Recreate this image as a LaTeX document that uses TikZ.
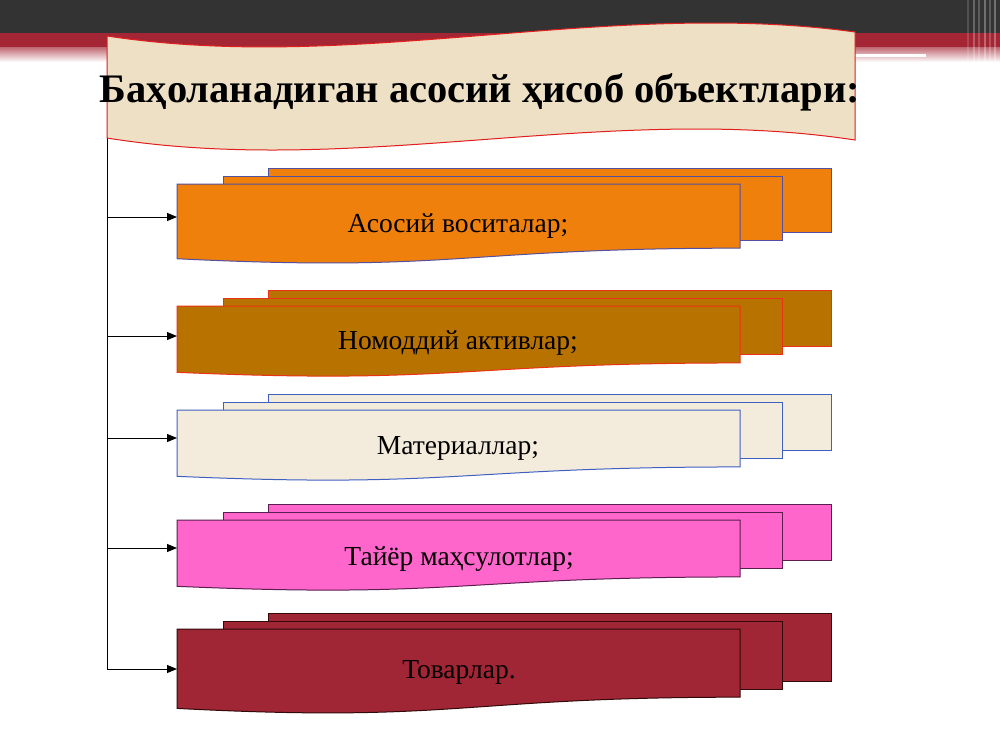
\documentclass[tikz,border=0pt]{standalone}
\usepackage{fontspec}
\setmainfont{Liberation Serif}
\usetikzlibrary{arrows.meta}
\definecolor{barDark}{RGB}{51,51,51}
\definecolor{barRed}{RGB}{164,38,52}
\definecolor{parch}{RGB}{237,224,197}
\definecolor{bannerLine}{RGB}{226,30,30}
\definecolor{orangeF}{RGB}{240,128,12}
\definecolor{orangeD}{RGB}{84,80,160}
\definecolor{brownF}{RGB}{184,114,0}
\definecolor{brownD}{RGB}{236,50,20}
\definecolor{creamF}{RGB}{243,235,219}
\definecolor{creamD}{RGB}{64,96,192}
\definecolor{pinkF}{RGB}{255,102,204}
\definecolor{pinkD}{RGB}{90,30,80}
\definecolor{wineF}{RGB}{160,37,53}
\definecolor{wineD}{RGB}{50,10,10}
\tikzset{
  pagebox/.style={line width=1pt},
  itemtext/.style={font=\fontsize{27.5}{32}\selectfont, text=black, anchor=base, inner sep=0pt},
  titletext/.style={font=\fontsize{40.5}{46}\selectfont\bfseries, text=black, anchor=base, inner sep=0pt},
  link/.style={line width=1pt, draw=black},
  linkarrow/.style={link, -{Triangle[length=10pt,width=8pt]}}
}
% #1 fill, #2 draw, #3 front top, #4 front height
\newcommand\docstack[4]{%
  \pgfmathsetmacro\hb{0.8*#4}%
  \filldraw[pagebox, fill=#1, draw=#2] (268,#3-16) rectangle (831,#3-16+\hb);
  \filldraw[pagebox, fill=#1, draw=#2] (223,#3-8) rectangle (782,#3-8+\hb);
  \filldraw[pagebox, fill=#1, draw=#2] (177,#3) -- (740,#3) -- (740,#3+0.802*#4)
     .. controls (458.5,#3+0.802*#4) and (458.5,#3+1.107*#4) .. (177,#3+0.934*#4) -- cycle;
}
\begin{document}
\begin{tikzpicture}[x=1pt, y=-1pt]
\useasboundingbox (0,0) rectangle (1000,750);
\fill[white] (0,0) rectangle (1000,750);
% top bars
\fill[barDark] (0,0) rectangle (1000,33);
\fill[barRed] (0,33) rectangle (1000,47);
\shade[top color=barRed!70, bottom color=white] (0,47) rectangle (1000,62);
\fill[white] (855,54) rectangle (926,57);
\foreach \xx/\op in {968/0.15,974/0.25,979/0.2,985/0.3,990/0.2,995/0.3}
  \draw[white, opacity=\op, line width=1.5pt] (\xx,0) -- (\xx,66);

% trunk
\coordinate (trunkTop) at (107,130);
\coordinate (t1) at (107,217);
\coordinate (t2) at (107,336);
\coordinate (t3) at (107,438);
\coordinate (t4) at (107,548);
\coordinate (t5) at (107,669);
\draw[link] (trunkTop) -- (t5);

% banner
\filldraw[fill=parch, draw=bannerLine, line width=1pt]
  (107,36) .. controls (356,74) and (606,-2) .. (855,32)
  -- (855,140) .. controls (606,102) and (356,178) .. (107,138) -- cycle;
\node[titletext] (title) at (480,102) {Баҳоланадиган асосий ҳисоб объектлари:};

% stacks
\docstack{orangeF}{orangeD}{184}{80}
\docstack{brownF}{brownD}{306}{71}
\docstack{creamF}{creamD}{410}{71}
\docstack{pinkF}{pinkD}{520}{71}
\docstack{wineF}{wineD}{629}{85}

\coordinate (f1) at (177,217);
\coordinate (f2) at (177,336);
\coordinate (f3) at (177,438);
\coordinate (f4) at (177,548);
\coordinate (f5) at (177,669);
\foreach \i in {1,...,5} \draw[linkarrow] (t\i) -- (f\i);

\node[itemtext] (l1) at (458,232) {Асосий воситалар;};
\node[itemtext] (l2) at (458,349) {Номоддий активлар;};
\node[itemtext] (l3) at (458,454) {Материаллар;};
\node[itemtext] (l4) at (459,565) {Тайёр маҳсулотлар;};
\node[itemtext] (l5) at (459,678) {Товарлар.};
\end{tikzpicture}
\end{document}
